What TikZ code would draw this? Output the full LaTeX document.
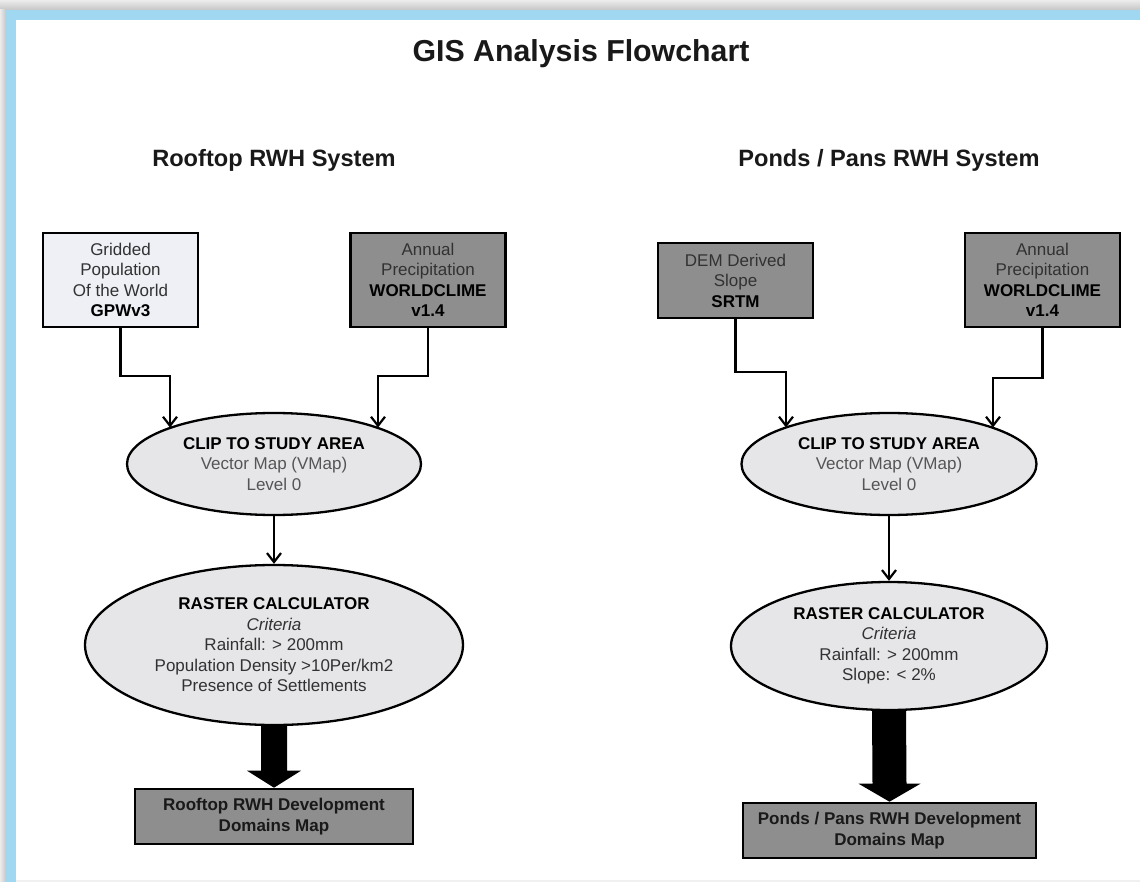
\documentclass[tikz,border=0pt]{standalone}
\usepackage{fontspec}
\setmainfont{Liberation Sans}
\usetikzlibrary{shapes.geometric,arrows.meta,calc}
\definecolor{frameblue}{RGB}{160,216,242}
\definecolor{lightbox}{RGB}{238,240,245}
\definecolor{darkbox}{RGB}{142,142,142}
\definecolor{ellfill}{RGB}{230,230,233}
\definecolor{txt}{RGB}{50,50,50}
\definecolor{ellgrey}{RGB}{85,85,85}
\begin{document}
\begin{tikzpicture}[x=1pt,y=-1pt,
  every node/.style={font=\fontsize{17}{20.5}\selectfont, text=txt},
  srcbox/.style={draw=black, line width=2.6pt, align=center, inner sep=0pt,
    minimum width=155pt, minimum height=94pt},
  proc/.style={ellipse, draw=black, line width=2.3pt, fill=ellfill, inner sep=0pt, align=center},
  outbox/.style={draw=black, line width=2.6pt, fill=darkbox, align=center, inner sep=0pt,
    font=\fontsize{17}{21}\selectfont\bfseries, text=black!90},
  conn/.style={draw=black, line width=2.2pt, -{Straight Barb[length=9pt,width=14pt,line width=2.2pt]}},
  bigarrow/.style={fill=black},
  heading/.style={anchor=base, font=\fontsize{23.6}{28}\selectfont\bfseries, text=black!90},
  titlestyle/.style={anchor=base, font=\fontsize{30.3}{36}\selectfont\bfseries, text=black!90}]
\useasboundingbox (0,0) rectangle (1140,882);
% frame
\shade[top color=gray!15, bottom color=gray!45] (0,0) rectangle (1140,10);
\shade[left color=gray!15, right color=gray!45] (0,10) rectangle (6,882);
\fill[frameblue] (6,10) rectangle (1140,882);
\fill[white] (16,20) rectangle (1140,880);
\fill[gray!12] (16,880) rectangle (1140,882);

% titles
\node[titlestyle] (title) at (581,62) {GIS Analysis Flowchart};
\node[heading] (hL) at (274,167) {Rooftop RWH System};
\node[heading] (hR) at (889,167) {Ponds / Pans RWH System};

% left column
\node[srcbox, fill=lightbox] (gpw) at (120.5,280) {Gridded\\Population\\Of the World\\\textcolor{black}{\textbf{GPWv3}}};
\node[srcbox, fill=darkbox] (precL) at (428,280) {Annual\\Precipitation\\\textcolor{black}{\textbf{WORLDCLIME}}\\\textcolor{black}{\textbf{v1.4}}};
\node[proc, minimum width=294pt, minimum height=102pt] (clipL) at (274,464)
  {\textcolor{black}{\textbf{CLIP TO STUDY AREA}}\\\textcolor{ellgrey}{Vector Map (VMap)}\\\textcolor{ellgrey}{Level 0}};
\node[proc, minimum width=378pt, minimum height=160pt] (rasL) at (274,645)
  {\textcolor{black}{\textbf{RASTER CALCULATOR}}\\\textit{Criteria}\\Rainfall: > 200mm\\Population Density >10Per/km2\\Presence of Settlements};
\node[outbox, minimum width=278pt, minimum height=55pt] (outL) at (274,816.5)
  {Rooftop RWH Development\\Domains Map};

% right column
\node[srcbox, fill=darkbox, minimum height=75pt] (dem) at (735.5,280.5) {DEM Derived\\Slope\\\textcolor{black}{\textbf{SRTM}}};
\node[srcbox, fill=darkbox] (precR) at (1042.5,280) {Annual\\Precipitation\\\textcolor{black}{\textbf{WORLDCLIME}}\\\textcolor{black}{\textbf{v1.4}}};
\node[proc, minimum width=295pt, minimum height=102pt] (clipR) at (889,464)
  {\textcolor{black}{\textbf{CLIP TO STUDY AREA}}\\\textcolor{ellgrey}{Vector Map (VMap)}\\\textcolor{ellgrey}{Level 0}};
\node[proc, minimum width=316pt, minimum height=128pt] (rasR) at (889,646)
  {\textcolor{black}{\textbf{RASTER CALCULATOR}}\\\textit{Criteria}\\Rainfall: > 200mm\\Slope: < 2\%};
\node[outbox, minimum width=293pt, minimum height=55pt] (outR) at (889.5,830.5)
  {Ponds / Pans RWH Development\\Domains Map};

% thin connectors
\coordinate (jL1) at (170,376);
\coordinate (jL2) at (378,376);
\coordinate (jR1) at (786,372);
\coordinate (jR2) at (993,378);
\draw[conn] (gpw.south) |- (jL1) -- (jL1 |- clipL.161);
\draw[conn] (precL.south) |- (jL2) -- (jL2 |- clipL.19);
\draw[conn] (dem.south) |- (jR1) -- (jR1 |- clipR.161);
\draw[conn] (precR.south) |- (jR2) -- (jR2 |- clipR.19);
\draw[conn] (clipL.south) -- (rasL.north);
\draw[conn] (clipR.south) -- (rasR.north);

% thick arrows
\fill[bigarrow] ($(rasL.south)+(-13,-1)$) -- ($(outL.north)+(-13,-17)$) -- ($(outL.north)+(-27,-17)$)
  -- (outL.north) -- ($(outL.north)+(27,-17)$) -- ($(outL.north)+(13,-17)$) -- ($(rasL.south)+(13,-1)$) -- cycle;
\fill[bigarrow] ($(rasR.south)+(-17,-1)$) -- ($(outR.north)+(-17,-18)$) -- ($(outR.north)+(-31,-18)$)
  -- (outR.north) -- ($(outR.north)+(31,-18)$) -- ($(outR.north)+(17,-18)$) -- ($(rasR.south)+(17,-1)$) -- cycle;
\end{tikzpicture}
\end{document}
